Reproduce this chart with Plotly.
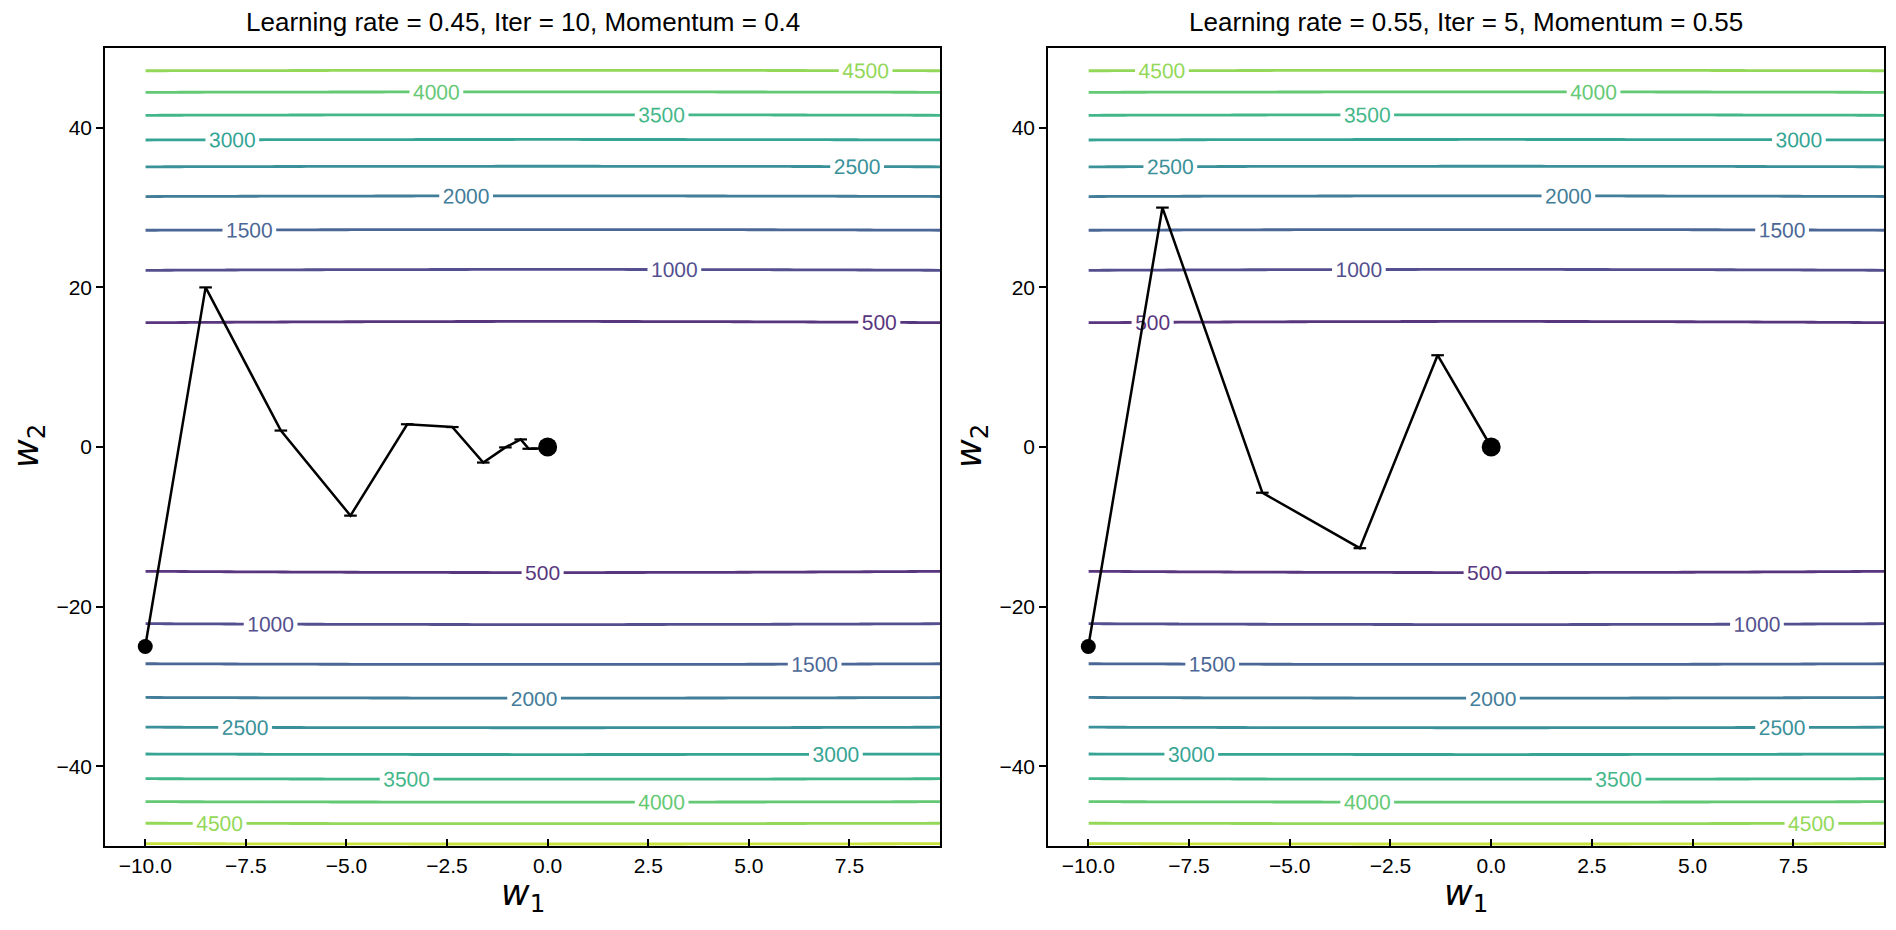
import numpy as np
import plotly.graph_objects as go
from plotly.colors import sample_colorscale

# ---- data -------------------------------------------------------------
# loss surface f(w1, w2) = A_W1 * w1^2 + B_W2 * w2^2 (read from contour spacing)
A_W1 = 0.1
B_W2 = 2.02
w1_grid = np.arange(-10, 10, 0.25)
w2_grid = np.arange(-50, 49.75, 0.25)
levels = [500, 1000, 1500, 2000, 2500, 3000, 3500, 4000, 4500, 5000]

titles = ["Learning rate = 0.45, Iter = 10, Momentum = 0.4",
          "Learning rate = 0.55, Iter = 5, Momentum = 0.55"]

path_left_w1 = [-10.0, -8.5, -6.63, -4.9, -3.49, -2.37, -1.6, -1.05, -0.67, -0.47, -0.25]
path_left_w2 = [-25.0, 20.0, 2.06, -8.6, 2.85, 2.5, -1.95, -0.05, 0.95, -0.22, -0.2]

path_right_w1 = [-10.0, -8.16, -5.68, -3.26, -1.33, 0.0]
path_right_w2 = [-25.0, 30.0, -5.73, -12.68, 11.5, 0.0]

optimum_w1 = [0.0]
optimum_w2 = [0.0]

x_ticks = [-10.0, -7.5, -5.0, -2.5, 0.0, 2.5, 5.0, 7.5]
y_ticks = [-40, -20, 0, 20, 40]

# ---- figure -----------------------------------------------------------
W1, W2 = np.meshgrid(w1_grid, w2_grid)
Z = A_W1 * W1 ** 2 + B_W2 * W2 ** 2

line_cols = sample_colorscale("Viridis", [l / 5500 for l in levels])
cscale = [[i / (len(levels) - 1), c] for i, c in enumerate(line_cols)]

FONT = "Liberation Sans, Arial, sans-serif"
fig = go.Figure()

paths = [(path_left_w1, path_left_w2), (path_right_w1, path_right_w2)]
for k, (pw1, pw2) in enumerate(paths):
    xa = "x" if k == 0 else "x2"
    ya = "y" if k == 0 else "y2"
    fig.add_trace(go.Contour(
        x=w1_grid, y=w2_grid, z=Z, xaxis=xa, yaxis=ya,
        contours=dict(coloring="lines", start=levels[0], end=levels[-1],
                      size=levels[1] - levels[0], showlabels=True,
                      labelfont=dict(size=21, family=FONT)),
        line=dict(width=2.8), colorscale=cscale, showscale=False, opacity=0.9,
        hoverinfo="skip"))
    fig.add_trace(go.Scatter(
        x=pw1, y=pw2, xaxis=xa, yaxis=ya, mode="lines+markers",
        line=dict(color="black", width=2.5),
        marker=dict(symbol="line-ew", size=9, line=dict(color="black", width=2.2)),
        showlegend=False, hoverinfo="skip"))
    fig.add_trace(go.Scatter(
        x=[pw1[0]], y=[pw2[0]], xaxis=xa, yaxis=ya, mode="markers",
        marker=dict(symbol="circle", size=15, color="black"),
        showlegend=False, hoverinfo="skip"))
    fig.add_trace(go.Scatter(
        x=optimum_w1, y=optimum_w2, xaxis=xa, yaxis=ya, mode="markers",
        marker=dict(symbol="circle", size=19, color="black"),
        showlegend=False, hoverinfo="skip"))

doms_x = [[105 / 1896, 940 / 1896], [1048 / 1896, 1884 / 1896]]
dom_y = [1 - 846 / 930, 1 - 48 / 930]

axis_common = dict(showgrid=False, zeroline=False, showline=True, linecolor="black",
                   linewidth=1.5, mirror=True, tickfont=dict(size=21, family=FONT, color="black"),
                   tickcolor="black", tickwidth=1.5)

layout = dict(
    width=1896, height=930, margin=dict(l=0, r=0, t=0, b=0),
    plot_bgcolor="white", paper_bgcolor="white", showlegend=False,
)
for k in range(2):
    sx = "" if k == 0 else "2"
    layout["xaxis" + sx] = dict(axis_common, domain=doms_x[k], range=[-11, 9.75],
                                tickvals=x_ticks, ticktext=[f"{v:.1f}".replace("-", "\u2212") for v in x_ticks],
                                ticks="inside", ticklen=7, anchor="y" + sx)
    layout["yaxis" + sx] = dict(axis_common, domain=dom_y, range=[-50, 50],
                                tickvals=y_ticks, ticks="outside", ticklen=7, anchor="x" + sx)
fig.update_layout(**layout)

centers = [(105 + 940) / 2 / 1896, (1048 + 1884) / 2 / 1896]
left_edges = [105, 1048]
for k in range(2):
    fig.add_annotation(text=titles[k], xref="paper", yref="paper", x=centers[k], y=1 - 22 / 930,
                       xanchor="center", yanchor="middle", showarrow=False,
                       font=dict(size=26, family=FONT, color="black"))
    fig.add_annotation(text="<i>w</i><sub>1</sub>", xref="paper", yref="paper", x=centers[k],
                       y=1 - 895 / 930, xanchor="center", yanchor="middle", showarrow=False,
                       font=dict(size=35, family="DejaVu Sans", color="black"))
    fig.add_annotation(text="<i>w</i><sub>2</sub>", xref="paper", yref="paper",
                       x=(left_edges[k] - 76) / 1896, y=1 - 446 / 930, textangle=-90,
                       xanchor="center", yanchor="middle", showarrow=False,
                       font=dict(size=35, family="DejaVu Sans", color="black"))

fig.write_html("out.html")
